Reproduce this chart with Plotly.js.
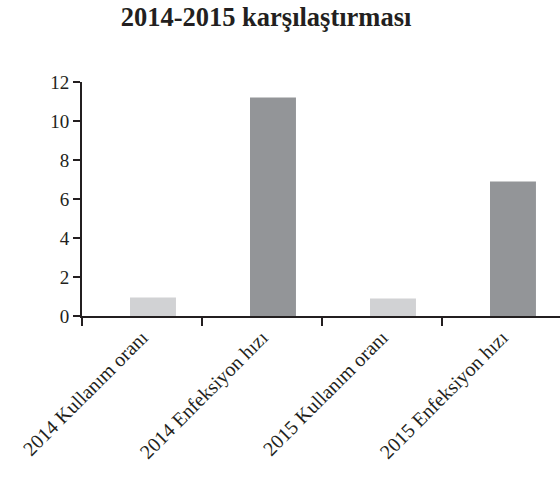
<!DOCTYPE html>
<html>
<head>
<meta charset="utf-8">
<script src="https://cdn.plot.ly/plotly-3.0.1.min.js"></script>
<style>html,body{margin:0;padding:0;background:#fff;overflow:hidden}#chart{width:560px;height:477px}</style>
</head>
<body>
<div id="chart"></div>
<script>
const categories = ["2014 Kullanım oranı", "2014 Enfeksiyon hızı", "2015 Kullanım oranı", "2015 Enfeksiyon hızı"];
const values = [0.95, 11.2, 0.9, 6.9];
const barColors = ["#d1d2d4", "#939598", "#d1d2d4", "#939598"];
const yTicks = [0, 2, 4, 6, 8, 10, 12];
const chartTitle = "2014-2015 karşılaştırması";

const trace = {
  type: "bar",
  x: categories,
  y: values,
  marker: {color: barColors, line: {width: 0}},
  width: 0.383,
  offset: -0.1,
  hoverinfo: "x+y"
};

const layout = {
  width: 560,
  height: 477,
  margin: {l: 82, r: 0, t: 82, b: 161, pad: 0},
  paper_bgcolor: "#ffffff",
  plot_bgcolor: "#ffffff",
  showlegend: false,
  font: {family: "Liberation Serif, Times New Roman, serif", color: "#231f20", size: 17},
  title: {
    text: "<b>" + chartTitle + "</b>",
    font: {family: "Liberation Serif, Times New Roman, serif", size: 26.5, color: "#231f20"},
    x: 266 / 560, xanchor: "center", xref: "container",
    y: 1 - 17 / 477, yanchor: "middle", yref: "container"
  },
  xaxis: {
    type: "category",
    range: [-0.5, 3.4833],
    tickson: "boundaries",
    ticks: "outside",
    ticklen: 8,
    tickwidth: 2,
    tickcolor: "#231f20",
    showline: true,
    linecolor: "#231f20",
    linewidth: 2,
    showgrid: false,
    zeroline: false,
    tickangle: -45,
    tickfont: {family: "Liberation Serif, Times New Roman, serif", size: 20, color: "#231f20"},
    fixedrange: true
  },
  yaxis: {
    range: [0, 12],
    tickvals: yTicks,
    ticktext: yTicks.map(String),
    ticks: "outside",
    ticklen: 7,
    tickwidth: 2,
    tickcolor: "#231f20",
    showline: true,
    linecolor: "#231f20",
    linewidth: 2,
    showgrid: false,
    zeroline: false,
    tickfont: {family: "Liberation Serif, Times New Roman, serif", size: 19, color: "#231f20"},
    fixedrange: true
  }
};

Plotly.newPlot("chart", [trace], layout, {displayModeBar: false, staticPlot: false});
</script>
</body>
</html>
